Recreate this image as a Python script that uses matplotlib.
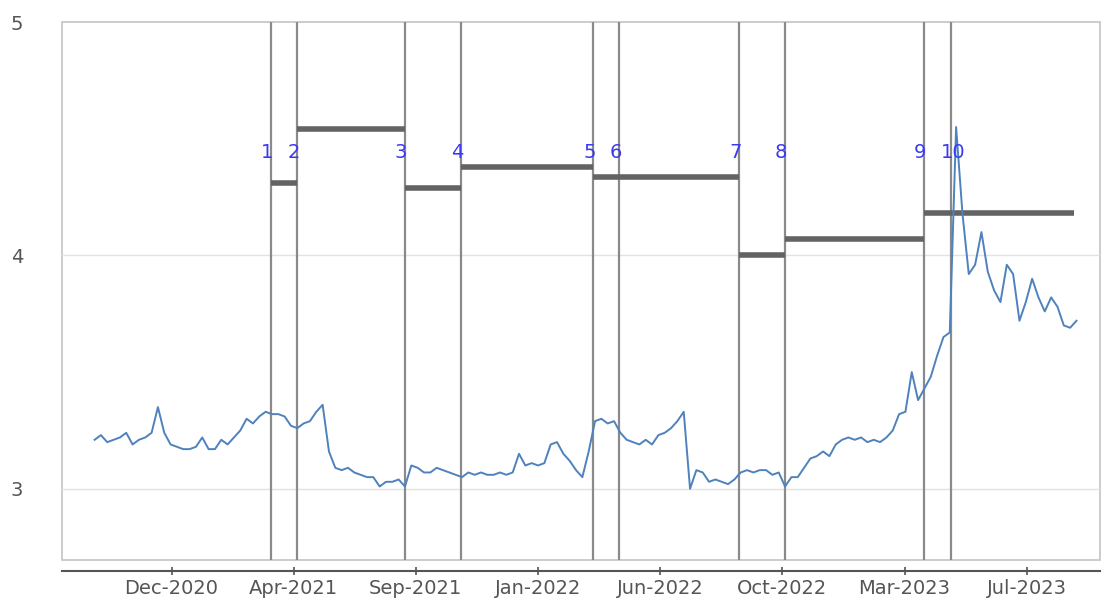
import numpy as np
import pandas as pd
import matplotlib
matplotlib.use('Agg')
import matplotlib.pyplot as plt
from matplotlib.patches import Rectangle

# weekly series
start_date = '2020-09-21'
values = [3.21, 3.23, 3.20, 3.21, 3.22, 3.24, 3.19, 3.21, 3.22, 3.24,
          3.35, 3.24, 3.19, 3.18, 3.17, 3.17, 3.18, 3.22, 3.17, 3.17,
          3.21, 3.19, 3.22, 3.25, 3.30, 3.28, 3.31, 3.33, 3.32, 3.32,
          3.31, 3.27, 3.26, 3.28, 3.29, 3.33, 3.36, 3.16, 3.09, 3.08,
          3.09, 3.07, 3.06, 3.05, 3.05, 3.01, 3.03, 3.03, 3.04, 3.01,
          3.10, 3.09, 3.07, 3.07, 3.09, 3.08, 3.07, 3.06, 3.05, 3.07,
          3.06, 3.07, 3.06, 3.06, 3.07, 3.06, 3.07, 3.15, 3.10, 3.11,
          3.10, 3.11, 3.19, 3.20, 3.15, 3.12, 3.08, 3.05, 3.16, 3.29,
          3.30, 3.28, 3.29, 3.24, 3.21, 3.20, 3.19, 3.21, 3.19, 3.23,
          3.24, 3.26, 3.29, 3.33, 3.00, 3.08, 3.07, 3.03, 3.04, 3.03,
          3.02, 3.04, 3.07, 3.08, 3.07, 3.08, 3.08, 3.06, 3.07, 3.01,
          3.05, 3.05, 3.09, 3.13, 3.14, 3.16, 3.14, 3.19, 3.21, 3.22,
          3.21, 3.22, 3.20, 3.21, 3.20, 3.22, 3.25, 3.32, 3.33, 3.50,
          3.38, 3.43, 3.48, 3.57, 3.65, 3.67, 4.55, 4.18, 3.92, 3.96,
          4.10, 3.93, 3.85, 3.80, 3.96, 3.92, 3.72, 3.80, 3.90, 3.82,
          3.76, 3.82, 3.78, 3.70, 3.69, 3.72]

# numbered events and the level between them
event_dates = ['2021-04-04', '2021-05-03', '2021-08-30', '2021-10-31', '2022-03-26',
               '2022-04-24', '2022-09-03', '2022-10-24', '2023-03-26', '2023-04-25']
event_labels = ['1', '2', '3', '4', '5', '6', '7', '8', '9', '10']
level_start = ['2021-04-04', '2021-05-03', '2021-08-30', '2021-10-31', '2022-03-26',
               '2022-09-03', '2022-10-24', '2023-03-26']
level_end = ['2021-05-03', '2021-08-30', '2021-10-31', '2022-03-26', '2022-09-03',
             '2022-10-24', '2023-03-26', '2023-09-08']
level_values = [4.31, 4.54, 4.29, 4.38, 4.335, 4.0, 4.07, 4.18]

tick_dates = ['2020-12-15', '2021-04-29', '2021-09-11', '2022-01-24',
              '2022-06-08', '2022-10-21', '2023-03-05', '2023-07-18']

dates = pd.date_range(start_date, periods=len(values), freq='7D')

fig = plt.figure(figsize=(11.02, 6.0), dpi=100)
ax = fig.add_axes([62 / 1102, 40 / 600, 1038 / 1102, 538 / 600])

ax.set_xlim(pd.Timestamp('2020-08-16'), pd.Timestamp('2023-10-07'))
ax.set_ylim(2.695, 5.0)

# light box around the plot area
ax.add_patch(Rectangle((0, 0), 1, 1, transform=ax.transAxes, fill=False,
                       edgecolor='#c8c8c8', lw=1.3, clip_on=False, zorder=1))
for s in ['top', 'left', 'right']:
    ax.spines[s].set_visible(False)
ax.spines['bottom'].set_position(('outward', 8))
ax.spines['bottom'].set_color('#555555')
ax.spines['bottom'].set_linewidth(1.5)

ax.set_yticks([3, 4, 5])
ax.set_yticklabels(['3', '4', '5'])
for y in [3, 4]:
    ax.axhline(y, color='#e2e2e2', lw=1.0, zorder=1)
ax.tick_params(axis='y', length=0, pad=28, labelsize=14, labelcolor='#555555')

ax.set_xticks(pd.to_datetime(tick_dates))
ax.set_xticklabels([pd.Timestamp(d).strftime('%b-%Y') for d in tick_dates])
ax.tick_params(axis='x', direction='inout', length=6, width=1.2, color='#555555',
               pad=3, labelsize=14, labelcolor='#555555')

# event lines with numbers
for d, lab in zip(event_dates, event_labels):
    ax.axvline(pd.Timestamp(d), color='#8a8a8a', lw=1.6, zorder=2)
    ax.annotate(lab, (pd.Timestamp(d), 4.44), xytext=(-10, 0), textcoords='offset pixels',
                ha='left', va='center', color='#3a3af5', fontsize=14, zorder=5)

# levels
for s, e, v in zip(level_start, level_end, level_values):
    ax.plot([pd.Timestamp(s), pd.Timestamp(e)], [v, v], color='#636363', lw=4,
            solid_capstyle='butt', zorder=3)

ax.plot(dates, values, color='#4f81bd', lw=1.4, zorder=4)

fig.savefig('out.png', dpi=100)
